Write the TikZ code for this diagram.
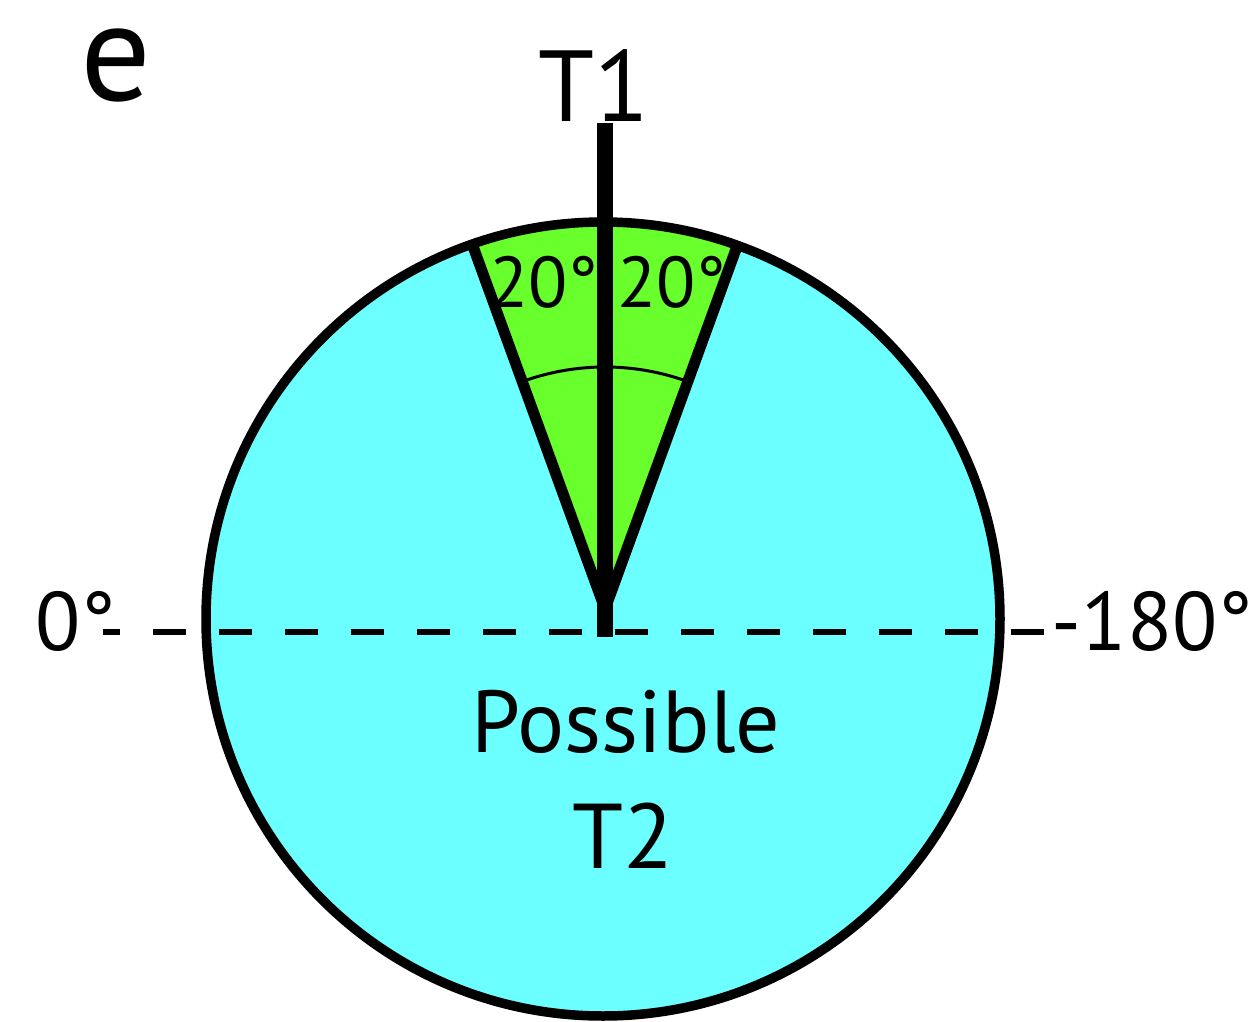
\documentclass[tikz,border=0pt]{standalone}
\usepackage{fontspec}
\setmainfont{PT Sans}
\usetikzlibrary{calc}
\definecolor{cyanfill}{RGB}{108,255,255}
\definecolor{greenfill}{RGB}{104,255,44}
\begin{document}
\begin{tikzpicture}[x=1pt,y=1pt,
  lbl/.style={inner sep=0pt,anchor=base,text=black},
  rim/.style={draw=black,line width=9.5pt},
  wedgeedge/.style={draw=black,line width=11pt},
  dashline/.style={draw=black,line width=6pt,dash pattern=on 33pt off 33pt}]
\useasboundingbox (0,0) rectangle (1256,-1022);
\coordinate (C) at (603,-619);
\coordinate (A) at (605,-609);
% circle fill
\fill[cyanfill] (C) circle (397);
% green wedge clipped to circle
\begin{scope}
  \clip (C) circle (397);
  \fill[greenfill] (A) -- ++(110:500) -- ($(A)+(70:500)$) -- cycle;
  \draw[wedgeedge] (A) -- ++(110:460);
  \draw[wedgeedge] (A) -- ++(70:460);
\end{scope}
% inner angle arc
\draw[black,line width=3pt] ($(A)+(70:242)$) arc[start angle=70,end angle=110,radius=242];
% circle rim
\draw[rim] (C) circle (397);
% dashed axis
\coordinate (dl) at (103,-632);
\coordinate (dr) at (1044,-632);
\draw[dashline,dash phase=16pt] (dl) -- (dr);
% T1 line
\coordinate (t1top) at (605,-123);
\coordinate (t1bot) at (605,-637);
\draw[black,line width=16pt] (t1top) -- (t1bot);
% labels
\node[lbl,font=\fontsize{140}{140}\selectfont] (e) at (116,-101) {e};
\node[lbl,font=\fontsize{101}{101}\selectfont] (T1) at (594,-122) {T1};
\node[lbl,font=\fontsize{72}{72}\selectfont] (a1) at (544,-307) {20°};
\node[lbl,font=\fontsize{72}{72}\selectfont] (a2) at (672,-307) {20°};
\node[lbl,font=\fontsize{83}{83}\selectfont] (z) at (76,-650) {0°};
\node[lbl,anchor=base east,font=\fontsize{83}{83}\selectfont] (m) at (1253,-650) {-180°};
\node[lbl,font=\fontsize{88}{88}\selectfont] (p) at (626,-752) {Possible};
\node[lbl,font=\fontsize{92}{92}\selectfont] (t2) at (623,-868) {T2};
\end{tikzpicture}
\end{document}
